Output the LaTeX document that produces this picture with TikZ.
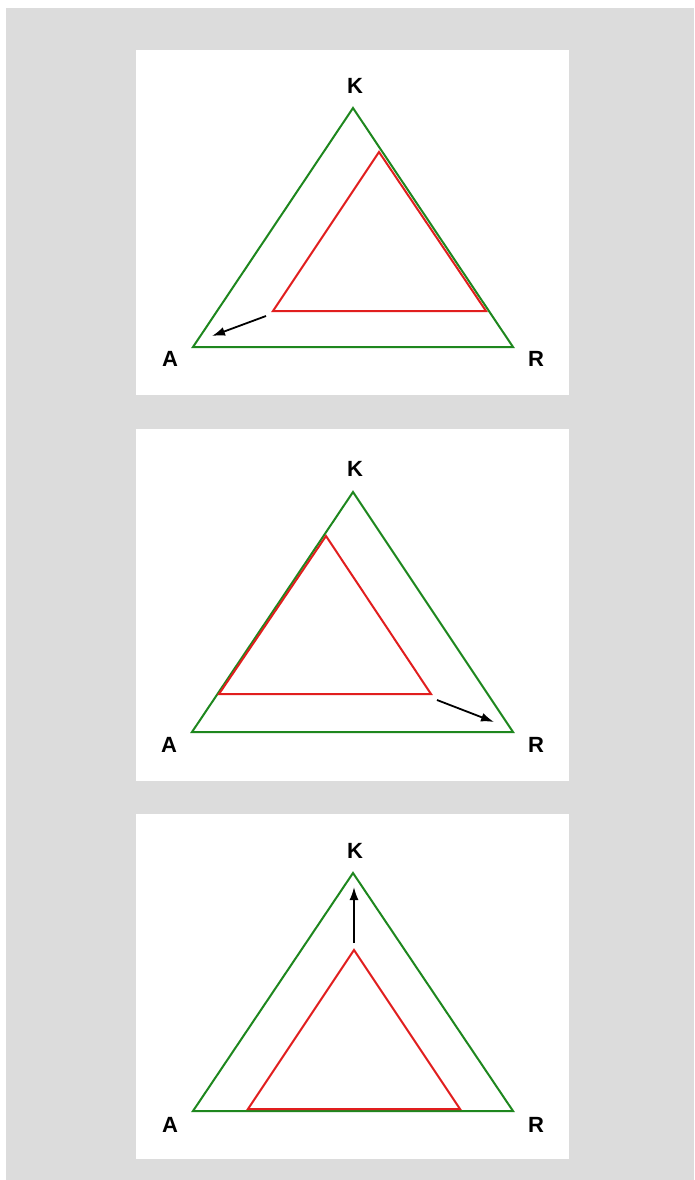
\documentclass[tikz,border=0pt]{standalone}
\usepackage{fontspec}
\setmainfont{Liberation Sans}
\usetikzlibrary{arrows.meta}
\definecolor{bggray}{RGB}{220,220,220}
\definecolor{tgreen}{RGB}{30,135,30}
\definecolor{tred}{RGB}{225,30,30}
\tikzset{
  outer/.style={draw=tgreen, line width=2pt, line join=miter},
  inner/.style={draw=tred, line width=2pt, line join=miter},
  mv/.style={draw=black, line width=1.8pt, -{Latex[length=13pt,width=9pt]}},
  lab/.style={font=\fontsize{22}{22}\selectfont\bfseries, inner sep=0pt},
  panel/.style={fill=white, draw=none}
}
\begin{document}
\begin{tikzpicture}[x=1pt,y=-1pt]
\useasboundingbox (0,0) rectangle (694,1180);
\fill[white] (0,0) rectangle (694,1180);
\fill[bggray] (6,8) rectangle (694,1180);
\fill[white] (136,50) rectangle (569,395);
\fill[white] (136,429) rectangle (569,781);
\fill[white] (136,814) rectangle (569,1159);
% Panel 1
\coordinate (k1) at (353,108);
\coordinate (a1) at (193,347);
\coordinate (r1) at (513,347);
\draw[outer] (k1) -- (a1) -- (r1) -- cycle;
\coordinate (ik1) at (379,152);
\coordinate (ia1) at (273,311);
\coordinate (ir1) at (486,311);
\draw[inner] (ik1) -- (ia1) -- (ir1) -- cycle;
\coordinate (s1) at (266,316);
\coordinate (e1) at (212,336);
\draw[mv] (s1) -- (e1);
\node[lab] (K1) at (355,86) {K};
\node[lab] (A1) at (170,359) {A};
\node[lab] (R1) at (536,359) {R};
% Panel 2
\coordinate (k2) at (353,492);
\coordinate (a2) at (192,732);
\coordinate (r2) at (513,732);
\draw[outer] (k2) -- (a2) -- (r2) -- cycle;
\coordinate (ik2) at (326,536);
\coordinate (ia2) at (219,694);
\coordinate (ir2) at (431,694);
\draw[inner] (ik2) -- (ia2) -- (ir2) -- cycle;
\coordinate (s2) at (437,700);
\coordinate (e2) at (494,722);
\draw[mv] (s2) -- (e2);
\node[lab] (K2) at (355,469) {K};
\node[lab] (A2) at (169,745) {A};
\node[lab] (R2) at (536,745) {R};
% Panel 3
\coordinate (k3) at (353,873);
\coordinate (a3) at (193,1111);
\coordinate (r3) at (513,1111);
\draw[outer] (k3) -- (a3) -- (r3) -- cycle;
\coordinate (ik3) at (354,950);
\coordinate (ia3) at (248,1109);
\coordinate (ir3) at (460,1109);
\draw[inner] (ik3) -- (ia3) -- (ir3) -- cycle;
\coordinate (s3) at (354,943);
\coordinate (e3) at (354,887);
\draw[mv] (s3) -- (e3);
\node[lab] (K3) at (355,851) {K};
\node[lab] (A3) at (170,1125) {A};
\node[lab] (R3) at (536,1125) {R};
\end{tikzpicture}
\end{document}
